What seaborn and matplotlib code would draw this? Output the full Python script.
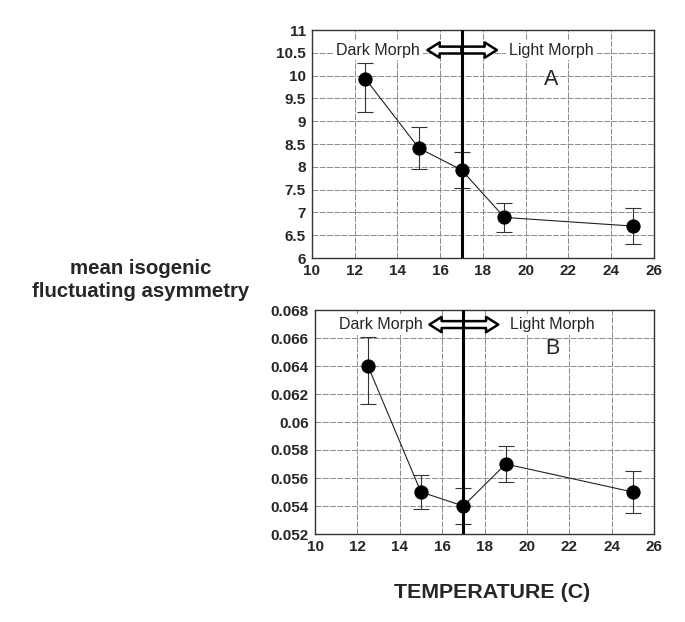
import matplotlib
matplotlib.use("Agg")
import matplotlib.pyplot as plt
import seaborn as sns
import pandas as pd
from matplotlib.ticker import AutoMinorLocator
from matplotlib.patches import FancyArrowPatch

temperature = [12.5, 15, 17, 19, 25]
fa_a = [9.93, 8.41, 7.93, 6.89, 6.70]
fa_a_upper = [10.28, 8.88, 8.33, 7.20, 7.10]
fa_a_lower = [9.20, 7.95, 7.53, 6.58, 6.30]
fa_b = [0.0640, 0.0550, 0.0540, 0.0570, 0.0550]
fa_b_upper = [0.0661, 0.0562, 0.0553, 0.0583, 0.0565]
fa_b_lower = [0.0613, 0.0538, 0.0527, 0.0557, 0.0535]
x_ticks = [10, 12, 14, 16, 18, 20, 22, 24, 26]
a_ticks = [6, 6.5, 7, 7.5, 8, 8.5, 9, 9.5, 10, 10.5, 11]
b_ticks = [0.052, 0.054, 0.056, 0.058, 0.06, 0.062, 0.064, 0.066, 0.068]
a_tick_labels = ["6", "6.5", "7", "7.5", "8", "8.5", "9", "9.5", "10", "10.5", "11"]
b_tick_labels = ["0.052", "0.054", "0.056", "0.058", "0.06", "0.062", "0.064", "0.066", "0.068"]

sns.set_style("white")
plt.rcParams["font.family"] = ["Liberation Sans", "DejaVu Sans"]

fig = plt.figure(figsize=(6.85, 6.22), dpi=100)
W, H = 685, 622
axA = fig.add_axes([312 / W, 1 - 258 / H, (654 - 312) / W, (258 - 30) / H])
axB = fig.add_axes([315 / W, 1 - 534 / H, (654 - 315) / W, (534 - 310) / H])


def draw(ax, y, up, lo, yticks, ylabels, letter, txt_frac, letter_frac):
    df = pd.DataFrame({"T": temperature, "FA": y})
    ax.set_xlim(10, 26)
    ax.set_ylim(yticks[0], yticks[-1])
    ax.set_xticks(x_ticks)
    ax.set_xticklabels([str(t) for t in x_ticks], fontweight="bold", fontsize=11)
    ax.set_yticks(yticks)
    ax.set_yticklabels(ylabels, fontweight="bold", fontsize=11)
    ax.xaxis.set_minor_locator(AutoMinorLocator(5))
    ax.yaxis.set_minor_locator(AutoMinorLocator(5))
    ax.tick_params(which="both", direction="in", top=False, right=False)
    ax.tick_params(which="major", length=4, width=0.8, pad=4.5)
    ax.tick_params(which="minor", length=2.5, width=0.6)
    ax.grid(True, which="major", color="#8a8a8a", linestyle=(0, (6, 1.5)), linewidth=0.7)
    ax.set_axisbelow(True)
    for s in ax.spines.values():
        s.set_color("#333333")
        s.set_linewidth(1.0)
    yerr = [[v - l for v, l in zip(y, lo)], [u - v for v, u in zip(y, up)]]
    ax.errorbar(temperature, y, yerr=yerr, fmt="none", ecolor="#333333",
                elinewidth=0.8, capsize=6, capthick=0.8, zorder=3)
    sns.lineplot(data=df, x="T", y="FA", ax=ax, color="#222222", linewidth=0.8,
                 marker="o", markersize=9.5, markerfacecolor="black",
                 markeredgecolor="black", zorder=4)
    ax.axvline(17, color="black", linewidth=2.2, zorder=8)
    ax.set_xlabel("")
    ax.set_ylabel("")
    ymin, ymax = yticks[0], yticks[-1]
    ytxt = ymin + (ymax - ymin) * txt_frac
    ax.text(13.1, ytxt, "Dark Morph", ha="center", va="center", fontsize=11.5,
            bbox=dict(facecolor="white", edgecolor="none", pad=2), zorder=6)
    ax.text(21.2, ytxt, "Light Morph", ha="center", va="center", fontsize=11.5,
            bbox=dict(facecolor="white", edgecolor="none", pad=2), zorder=6)
    for end in (15.4, 18.65):
        arrow = FancyArrowPatch((17.0, ytxt), (end, ytxt),
                                arrowstyle="simple,head_length=0.8,head_width=1.0,tail_width=0.45",
                                mutation_scale=11, facecolor="white", edgecolor="black",
                                linewidth=1.8, shrinkA=0, shrinkB=0, zorder=7)
        ax.add_patch(arrow)
    ax.text(21.2, ymin + (ymax - ymin) * letter_frac, letter, ha="center", va="center",
            fontsize=15.5, zorder=6)


draw(axA, fa_a, fa_a_upper, fa_a_lower, a_ticks, a_tick_labels, "A", 0.912, 0.785)
draw(axB, fa_b, fa_b_upper, fa_b_lower, b_ticks, b_tick_labels, "B", 0.935, 0.83)

fig.text(141 / W, 1 - 280 / H, "mean isogenic\nfluctuating asymmetry", ha="center",
         va="center", fontsize=14.7, fontweight="bold", linespacing=1.3)
fig.text(492 / W, 1 - 592 / H, "TEMPERATURE (C)", ha="center", va="center",
         fontsize=15.4, fontweight="bold")

fig.savefig("out.png", dpi=100)
